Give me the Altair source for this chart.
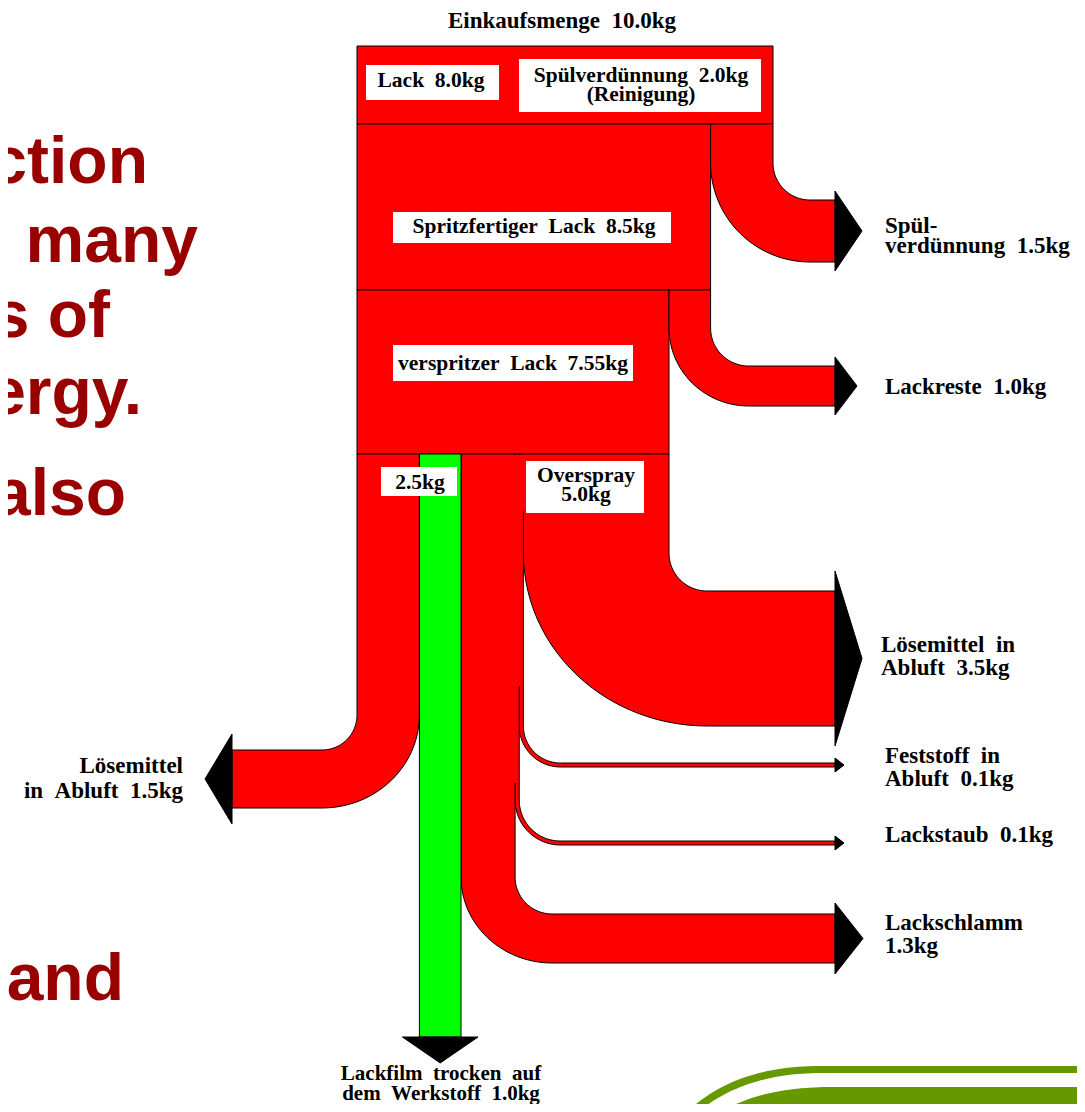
import math
import altair as alt
import pandas as pd

# ---------------- values (kg) ----------------
purchase_kg = 10.0          # Einkaufsmenge
paint_kg = 8.0              # Lack
rinse_in_kg = 2.0           # Spülverdünnung (Reinigung)
ready_kg = 8.5              # Spritzfertiger Lack
sprayed_kg = 7.55           # verspritzer Lack
film_solvent_kg = 2.5       # 2.5kg
overspray_kg = 5.0          # Overspray

flow_keys = ["spuel", "reste", "loes_l", "film", "schlamm", "staub", "fest", "loes_r"]
flow_kg = [1.5, 1.0, 1.5, 1.0, 1.3, 0.1, 0.1, 3.5]
flow_labels = [
    ["Spül-", "verdünnung  1.5kg"],
    ["Lackreste  1.0kg"],
    ["Lösemittel", "in  Abluft  1.5kg"],
    ["Lackfilm  trocken  auf", "dem  Werkstoff  1.0kg"],
    ["Lackschlamm", "1.3kg"],
    ["Lackstaub  0.1kg"],
    ["Feststoff  in", "Abluft  0.1kg"],
    ["Lösemittel  in", "Abluft  3.5kg"],
]

slide_words = ["ction", "e many", "s of", "ergy.", "also", "and"]

# ---------------- layout (pixels) ----------------
PX = 41.6                       # pixels per kg
X0 = 357
ROW = {"top": (46, 124), "ready": (124, 290), "spray": (290, 454)}
RED, GREEN, DECO, SLIDE = "#ff0000", "#00ff00", "#669900", "#990000"
PAGE_W, PAGE_H, MARGIN = 1085, 1112, 8

kg = dict(zip(flow_keys, flow_kg))
x_top_r = X0 + purchase_kg * PX
x_ready_r = x_top_r - kg["spuel"] * PX
x_spray_r = x_ready_r - kg["reste"] * PX

# bottom split of the sprayed paint, left to right
bottom_order = ["loes_l", "film", "schlamm", "staub", "fest", "loes_r"]
bx = {}
cur = X0
for k in bottom_order:
    bx[k] = (cur, cur + kg[k] * PX)
    cur += kg[k] * PX
bx["spuel"] = (x_ready_r, x_top_r)
bx["reste"] = (x_spray_r, x_ready_r)

# elbow geometry: start y, curve start y, inner radius, outer vertical radius,
# end x, arrow overhang, arrow length
elbow = {
    "spuel":   dict(y0=124, yc=163, ri=37, ry=99, xend=835, over=9, hl=27),
    "reste":   dict(y0=290, yc=328, ri=38, ry=78, xend=835, over=9, hl=22),
    "loes_r":  dict(y0=454, yc=553, ri=38, ry=173, xend=835, over=20, hl=27),
    "fest":    dict(y0=454, yc=726, ri=37, ry=41, xend=835, over=5, hl=9),
    "staub":   dict(y0=454, yc=800, ri=41, ry=45, xend=835, over=5, hl=9),
    "schlamm": dict(y0=454, yc=877, ri=37, ry=86, xend=835, over=11, hl=28),
    "loes_l":  dict(y0=454, yc=715, ri=35, ry=93, xend=232, over=16, hl=27),
}
film_end_y, film_over, film_hl = 1037, 17, 26
N = 28

def right_elbow(xl, xr, y0, yc, ri, ry, xend, **_):
    cx, cy = xr + ri, yc
    ro = cx - xl
    pts = [(xl, y0), (xr, y0), (xr, yc)]
    for i in range(1, N + 1):
        t = math.pi / 2 * i / N
        pts.append((cx - ri * math.cos(t), cy + ri * math.sin(t)))
    pts += [(xend, cy + ri), (xend, cy + ry)]
    for i in range(N, -1, -1):
        t = math.pi / 2 * i / N
        pts.append((cx - ro * math.cos(t), cy + ry * math.sin(t)))
    return pts

def left_elbow(xl, xr, y0, yc, ri, ry, xend, **_):
    cx, cy = xl - ri, yc
    ro = xr - cx
    pts = [(xr, y0), (xl, y0), (xl, yc)]
    for i in range(1, N + 1):
        t = math.pi / 2 * i / N
        pts.append((cx + ri * math.cos(t), cy + ri * math.sin(t)))
    pts += [(xend, cy + ri), (xend, cy + ry)]
    for i in range(N, -1, -1):
        t = math.pi / 2 * i / N
        pts.append((cx + ro * math.cos(t), cy + ry * math.sin(t)))
    return pts

def rect(x1, x2, y1, y2):
    return [(x1, y1), (x2, y1), (x2, y2), (x1, y2)]

shape_rows = []
def add_shape(sid, pts, fill):
    for i, (x, y) in enumerate(pts):
        shape_rows.append({"sid": sid, "ord": i, "x": x, "y": y, "fill": fill})

add_shape("n1_top", rect(X0, x_top_r, *ROW["top"]), RED)
add_shape("n2_ready", rect(X0, x_ready_r, *ROW["ready"]), RED)
add_shape("n3_spray", rect(X0, x_spray_r, *ROW["spray"]), RED)
for k, g in elbow.items():
    xl, xr = bx[k]
    fn = left_elbow if k == "loes_l" else right_elbow
    add_shape("b_" + k, fn(xl, xr, **g), RED)
fx1, fx2 = bx["film"]
add_shape("b_film", rect(fx1, fx2, ROW["spray"][1], film_end_y), GREEN)
shapes = pd.DataFrame(shape_rows)

# arrow heads
head_rows = []
def add_head(sid, pts):
    for i, (x, y) in enumerate(pts):
        head_rows.append({"sid": sid, "ord": i, "x": x, "y": y})
for k, g in elbow.items():
    top = g["yc"] + g["ri"]
    bot = g["yc"] + g["ry"]
    mid = (top + bot) / 2
    sgn = -1 if k == "loes_l" else 1
    add_head("h_" + k, [(g["xend"], top - g["over"]), (g["xend"] + sgn * g["hl"], mid),
                        (g["xend"], bot + g["over"])])
add_head("h_film", [(fx1 - film_over, film_end_y), (fx2 + film_over, film_end_y),
                    ((fx1 + fx2) / 2, film_end_y + film_hl)])
heads = pd.DataFrame(head_rows)

# red covers hiding inner seams of the overspray split
sx = bx["schlamm"][0]
covers = pd.DataFrame([
    {"x": sx + 1.2, "x2": x_spray_r - 1.5, "y": 455, "y2": 511.5},
    {"x": sx + 1.2, "x2": bx["loes_r"][0] - 1.3, "y": 455, "y2": 686},
    {"x": sx + 1.2, "x2": bx["fest"][0] - 1.2, "y": 455, "y2": 783},
])

# decoration (slide template swoosh)
def bez(p0, p1, p2, n=30):
    return [((1 - t) ** 2 * p0[0] + 2 * (1 - t) * t * p1[0] + t * t * p2[0],
             (1 - t) ** 2 * p0[1] + 2 * (1 - t) * t * p1[1] + t * t * p2[1])
            for t in [i / n for i in range(n + 1)]]
deco_rows = []
thin_top = bez((687, 1112), (735, 1066), (820, 1066))
thin_bot = bez((698, 1112), (745, 1073), (822, 1073))
thin = thin_top + [(PAGE_W, 1066), (PAGE_W, 1073)] + thin_bot[::-1]
thick = bez((721, 1112), (762, 1087), (832, 1087)) + [(PAGE_W, 1087), (PAGE_W, 1112)]
for sid, pts in [("d1", thin), ("d2", thick)]:
    for i, (x, y) in enumerate(pts):
        deco_rows.append({"sid": sid, "ord": i, "x": x, "y": y})
deco = pd.DataFrame(deco_rows)

# white label boxes
boxes = pd.DataFrame([
    {"x": 366, "x2": 499, "y": 65, "y2": 100},
    {"x": 519, "x2": 761, "y": 59, "y2": 112},
    {"x": 393, "x2": 671, "y": 212, "y2": 243},
    {"x": 393, "x2": 633, "y": 345, "y2": 381},
    {"x": 381, "x2": 457, "y": 467, "y2": 496},
    {"x": 526, "x2": 644, "y": 461, "y2": 513},
])

def sp(s):
    return s.replace("  ", "\u00a0\u00a0")

BOX_FS, OUT_FS, BOTTOM_FS = 21.5, 23, 21
center_labels = pd.DataFrame([
    {"t": f"Einkaufsmenge  {purchase_kg:.1f}kg", "x": 562, "y": 28, "s": OUT_FS},
    {"t": f"Lack  {paint_kg:.1f}kg", "x": 431, "y": 87, "s": BOX_FS},
    {"t": f"Spülverdünnung  {rinse_in_kg:.1f}kg", "x": 641, "y": 82, "s": BOX_FS},
    {"t": "(Reinigung)", "x": 641, "y": 101, "s": BOX_FS},
    {"t": f"Spritzfertiger  Lack  {ready_kg:.1f}kg", "x": 534, "y": 233, "s": BOX_FS},
    {"t": f"verspritzer  Lack  {sprayed_kg:.2f}kg", "x": 513, "y": 370, "s": BOX_FS},
    {"t": f"{film_solvent_kg:.1f}kg", "x": 420, "y": 489, "s": BOX_FS},
    {"t": "Overspray", "x": 586, "y": 482, "s": BOX_FS},
    {"t": f"{overspray_kg:.1f}kg", "x": 586, "y": 501, "s": BOX_FS},
    {"t": flow_labels[3][0], "x": 441, "y": 1080, "s": BOTTOM_FS},
    {"t": flow_labels[3][1], "x": 441, "y": 1100, "s": BOTTOM_FS},
])
left_labels = pd.DataFrame([
    {"t": flow_labels[0][0], "x": 885, "y": 233},
    {"t": flow_labels[0][1], "x": 885, "y": 253},
    {"t": flow_labels[1][0], "x": 885, "y": 394},
    {"t": flow_labels[7][0], "x": 881, "y": 652},
    {"t": flow_labels[7][1], "x": 881, "y": 675},
    {"t": flow_labels[6][0], "x": 885, "y": 763},
    {"t": flow_labels[6][1], "x": 885, "y": 786},
    {"t": flow_labels[5][0], "x": 885, "y": 842},
    {"t": flow_labels[4][0], "x": 885, "y": 930},
    {"t": flow_labels[4][1], "x": 885, "y": 953},
])
right_labels = pd.DataFrame([
    {"t": flow_labels[2][0], "x": 183, "y": 773},
    {"t": flow_labels[2][1], "x": 183, "y": 798},
])
for df in (center_labels, left_labels, right_labels):
    df["t"] = df["t"].map(sp)

slide = pd.DataFrame({"t": slide_words,
                      "x": [148, 198, 110, 142, 126, 124],
                      "y": [183, 262, 337, 414, 515, 1000]})

# ---------------- chart ----------------
W = PAGE_W - 2 * MARGIN
H = PAGE_H - 2 * MARGIN
XS = alt.Scale(domain=[MARGIN, MARGIN + W], nice=False, zero=False)
YS = alt.Scale(domain=[MARGIN, MARGIN + H], nice=False, zero=False, reverse=True)
X = alt.X("x:Q", scale=XS, axis=None)
Y = alt.Y("y:Q", scale=YS, axis=None)

deco_l = alt.Chart(deco).mark_line(filled=True, interpolate="linear-closed", fill=DECO,
                                   strokeWidth=0, clip=True).encode(
    x=X, y=Y, detail="sid:N", order="ord:Q")

slide_l = alt.Chart(slide).mark_text(align="right", baseline="alphabetic", font="Liberation Sans",
                                     fontWeight="bold", fontSize=66, color=SLIDE).encode(
    x=X, y=Y, text="t:N")

shape_l = alt.Chart(shapes).mark_line(filled=True, interpolate="linear-closed", stroke="black",
                                      strokeWidth=1).encode(
    x=X, y=Y, detail="sid:N", order="ord:Q", color=alt.Color("fill:N", scale=None))

cover_l = alt.Chart(covers).mark_rect(fill=RED, strokeWidth=0).encode(
    x=X, x2="x2:Q", y=Y, y2="y2:Q")

head_l = alt.Chart(heads).mark_line(filled=True, interpolate="linear-closed", fill="black",
                                    stroke="black", strokeWidth=1).encode(
    x=X, y=Y, detail="sid:N", order="ord:Q")

box_l = alt.Chart(boxes).mark_rect(fill="white", strokeWidth=0).encode(
    x=X, x2="x2:Q", y=Y, y2="y2:Q")

def text_layer(df, align, size=None):
    enc = dict(x=X, y=Y, text="t:N")
    if size is None:
        enc["size"] = alt.Size("s:Q", scale=None)
        return alt.Chart(df).mark_text(align=align, baseline="alphabetic", font="Liberation Serif",
                                       fontWeight="bold", color="black").encode(**enc)
    return alt.Chart(df).mark_text(align=align, baseline="alphabetic", font="Liberation Serif",
                                   fontWeight="bold", fontSize=size, color="black").encode(**enc)

chart = alt.layer(
    deco_l, slide_l, shape_l, cover_l, head_l, box_l,
    text_layer(center_labels, "center"),
    text_layer(left_labels, "left", OUT_FS),
    text_layer(right_labels, "right", OUT_FS),
).properties(
    width=W, height=H, padding=0, autosize=alt.AutoSizeParams(type="none"),
    background="white",
).configure_view(stroke=None)

chart.save("out.html", embed_options={"renderer": "svg", "actions": False})
